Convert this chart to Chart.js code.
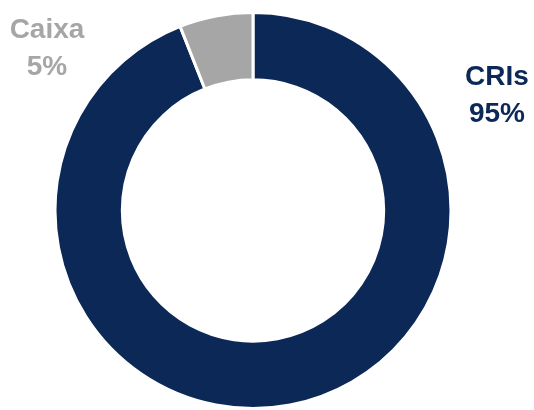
<!DOCTYPE html>
<html>
<head>
<meta charset="utf-8">
<script src="https://cdn.jsdelivr.net/npm/chart.js"></script>
<style>
  html, body { margin: 0; padding: 0; background: #fff; }
  #wrap { width: 534px; height: 410px; }
</style>
</head>
<body>
<div id="wrap"><canvas id="carteira"></canvas></div>
<script>
const categorias = ['CRIs', 'Caixa'];
const valores = [94, 6];
const rotulos = ['95%', '5%'];
const cores = ['#0C2857', '#A6A6A6'];

// posicao dos textos (nome + percentual) de cada fatia
const posRotulos = [
    { x: 497, y: 77 },
    { x: 47, y: 30 }
];

const rotuloPlugin = {
    id: 'rotulos',
    afterDraw(chart) {
        const ctx = chart.ctx;
        ctx.save();
        ctx.font = 'bold 28px "Liberation Sans", Arial, sans-serif';
        ctx.textAlign = 'center';
        ctx.textBaseline = 'middle';
        categorias.forEach((nome, i) => {
            const p = posRotulos[i];
            ctx.fillStyle = cores[i];
            ctx.fillText(nome, p.x, p.y);
            ctx.fillText(rotulos[i], p.x, p.y + 37);
        });
        ctx.restore();
    }
};

new Chart(document.getElementById('carteira'), {
    type: 'doughnut',
    data: {
        labels: categorias,
        datasets: [{
            data: valores,
            backgroundColor: cores,
            borderColor: '#ffffff',
            borderWidth: 3
        }]
    },
    options: {
        responsive: true,
        maintainAspectRatio: false,
        animation: false,
        cutout: '66%',
        layout: { padding: { top: 11, bottom: 0, left: 0, right: 28 } },
        plugins: {
            legend: { display: false },
            tooltip: { enabled: false }
        }
    },
    plugins: [rotuloPlugin]
});
</script>
</body>
</html>
